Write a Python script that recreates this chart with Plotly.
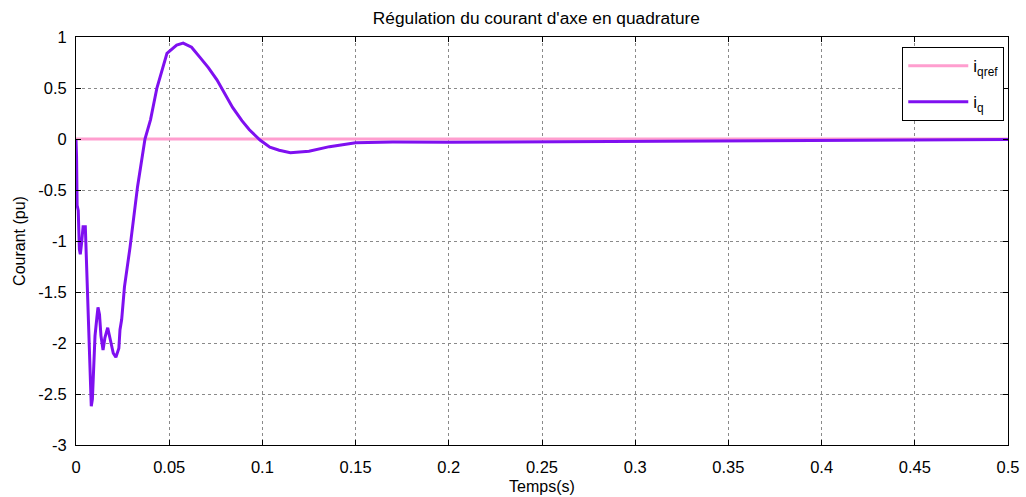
import plotly.graph_objects as go

# Simulation time (s) and quadrature-axis current (pu)
t_iq = [0, 0.0003, 0.0006, 0.0012, 0.0018, 0.0023, 0.0030, 0.0038, 0.0050, 0.0054,
        0.0060, 0.0068, 0.0075, 0.0082, 0.0088, 0.0094, 0.0102, 0.0112, 0.0118, 0.0126,
        0.0134, 0.0145, 0.0155, 0.0170, 0.0185, 0.0200, 0.0214, 0.0230, 0.0236, 0.0245,
        0.0260, 0.0290, 0.0330, 0.0370, 0.0400, 0.0434, 0.0488, 0.0540, 0.0575, 0.0620,
        0.0665, 0.0710, 0.0756, 0.0800, 0.0840, 0.0890, 0.0930, 0.0987, 0.1040, 0.1090,
        0.1150, 0.1250, 0.1360, 0.1500, 0.1700, 0.2000, 0.2500, 0.3000, 0.3500, 0.4000,
        0.4500, 0.5000]
iq = [0, -0.18, -0.65, -0.70, -1.08, -1.13, -1.02, -0.86, -0.86, -1.10,
      -1.45, -1.77, -2.33, -2.62, -2.55, -2.20, -1.93, -1.75, -1.65, -1.72,
      -1.93, -2.07, -1.95, -1.85, -1.97, -2.10, -2.14, -2.05, -1.87, -1.77,
      -1.45, -1.06, -0.47, 0.0, 0.19, 0.50, 0.84, 0.92, 0.94, 0.90,
      0.80, 0.70, 0.58, 0.44, 0.31, 0.18, 0.09, -0.01, -0.08, -0.11,
      -0.134, -0.12, -0.075, -0.036, -0.03, -0.032, -0.028, -0.02, -0.015, -0.01,
      -0.008, -0.005]

# Reference current
t_ref = [0, 0.5]
iq_ref = [0, 0]

x_ticks = [0, 0.05, 0.1, 0.15, 0.2, 0.25, 0.3, 0.35, 0.4, 0.45, 0.5]
x_tick_text = ["0", "0.05", "0.1", "0.15", "0.2", "0.25", "0.3", "0.35", "0.4", "0.45", "0.5"]
y_ticks = [-3, -2.5, -2, -1.5, -1, -0.5, 0, 0.5, 1]
y_tick_text = ["-3", "-2.5", "-2", "-1.5", "-1", "-0.5", "0", "0.5", "1"]

FONT = "Liberation Sans, Arial, sans-serif"
PINK = "#ff9ecf"
PURPLE = "#7f10f0"

fig = go.Figure()
fig.add_trace(go.Scatter(x=t_ref, y=iq_ref, mode="lines", name="i<sub>qref</sub>",
                         legendgroup="ref", line=dict(color=PINK, width=3)))
fig.add_trace(go.Scatter(x=t_iq, y=iq, mode="lines", name="i<sub>q</sub>",
                         legendgroup="mes", line=dict(color=PURPLE, width=3)))

axis_common = dict(
    showline=True, linecolor="black", linewidth=1, mirror="allticks",
    ticks="inside", ticklen=5, tickcolor="black", automargin=False,
    showgrid=True, gridcolor="#8a8a8a", gridwidth=1, griddash="dot",
    zeroline=False, tickfont=dict(family=FONT, size=16.5, color="black"),
)

fig.update_xaxes(range=[0, 0.5], tickvals=x_ticks, ticktext=x_tick_text,
                 ticklabelstandoff=7,
                 title=dict(text="Temps(s)", font=dict(family=FONT, size=16, color="black"),
                            standoff=6),
                 **axis_common)
fig.update_yaxes(range=[-3, 1], tickvals=y_ticks, ticktext=y_tick_text,
                 ticklabelstandoff=5,
                 title=dict(text="Courant (pu)", font=dict(family=FONT, size=16, color="black"),
                            standoff=8),
                 **axis_common)

fig.update_layout(
    width=1026, height=497,
    margin=dict(l=76, r=18, t=37, b=52),
    paper_bgcolor="white", plot_bgcolor="white",
    title=dict(text="Régulation du courant d'axe en quadrature", x=0.494, xref="paper",
               xanchor="center", y=0.963, yanchor="middle",
               font=dict(family=FONT, size=17.3, color="black")),
    font=dict(family=FONT, color="black"),
    showlegend=True,
    legend=dict(x=0.996, y=0.975, xanchor="right", yanchor="top",
                bgcolor="white", bordercolor="black", borderwidth=1,
                font=dict(family=FONT, size=17, color="black"),
                itemwidth=60, tracegroupgap=11),
)

fig.write_html("out.html")
